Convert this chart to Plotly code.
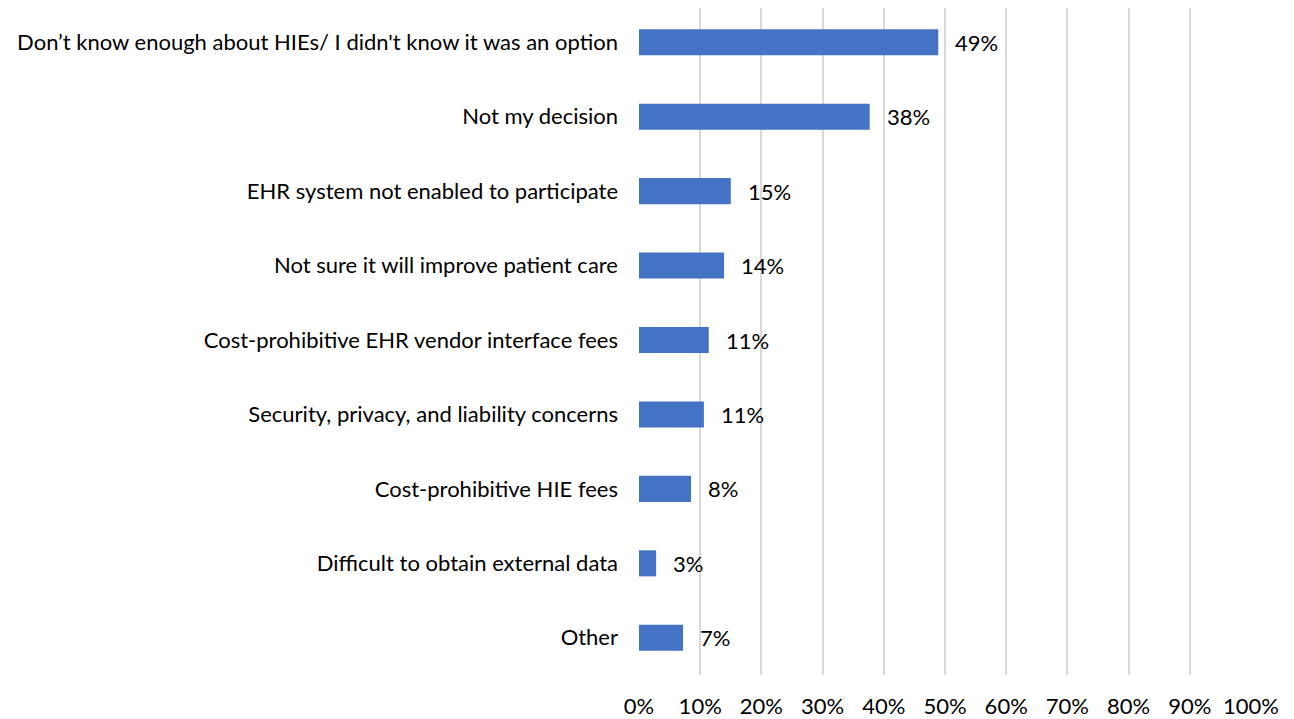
import plotly.graph_objects as go

categories = [
    "Don\u2019t know enough about HIEs/ I didn't know it was an option",
    "Not my decision",
    "EHR system not enabled to participate",
    "Not sure it will improve patient care",
    "Cost-prohibitive EHR vendor interface fees",
    "Security, privacy, and liability concerns",
    "Cost-prohibitive HIE fees",
    "Difficult to obtain external data",
    "Other",
]
values = [48.9, 37.7, 15.0, 13.9, 11.4, 10.6, 8.5, 2.8, 7.2]
labels = ["49%", "38%", "15%", "14%", "11%", "11%", "8%", "3%", "7%"]
tick_vals = list(range(0, 101, 10))
tick_text = [f"{v}%" for v in tick_vals]

FONT = "Lato, 'Open Sans', sans-serif"
FONT_SIZE = 22

fig = go.Figure(go.Bar(
    y=categories,
    x=values,
    orientation="h",
    width=0.35,
    marker=dict(color="#4472C4", line=dict(width=0)),
    hoverinfo="skip",
))

# value labels to the right of each bar
for cat, val, lab in zip(categories, values, labels):
    fig.add_annotation(
        x=val, y=cat, text=lab, showarrow=False,
        xanchor="left", xshift=15,
        font=dict(family=FONT, size=FONT_SIZE, color="#000000"),
    )

# page body adds an 8px margin, so the figure is sized a bit smaller
fig.update_layout(
    width=1286,
    height=711,
    margin=dict(l=631, r=43, t=0, b=44),
    plot_bgcolor="white",
    paper_bgcolor="white",
    showlegend=False,
    font=dict(family=FONT, size=FONT_SIZE, color="#000000"),
)

fig.update_xaxes(
    range=[0, 100],
    tickvals=tick_vals,
    ticktext=tick_text,
    showgrid=True,
    gridcolor="#D9D9D9",
    gridwidth=1.5,
    zeroline=False,
    showline=False,
    ticks="",
    automargin=False,
    ticklabelstandoff=16,
)

fig.update_yaxes(
    categoryorder="array",
    categoryarray=categories[::-1],
    autorange=False,
    range=[-0.5, len(categories) - 0.54],
    showgrid=False,
    zeroline=False,
    showline=False,
    ticks="",
    automargin=False,
    ticklabelstandoff=20,
)

fig.write_html("out.html")
